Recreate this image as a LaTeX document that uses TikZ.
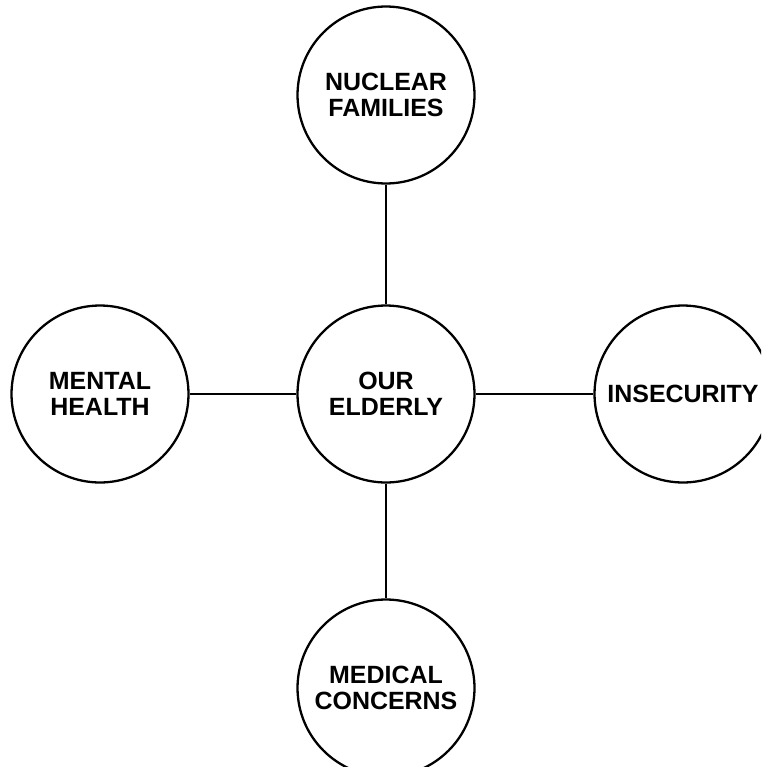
\documentclass[tikz,border=0pt]{standalone}
\usepackage{fontspec}
\setmainfont{Liberation Sans}
\usepackage{tikz}
\usetikzlibrary{positioning}
\tikzset{topic/.style={draw,circle,line width=1.3pt,minimum size=3.54cm,inner sep=0pt,align=center,text=black,font=\bfseries\fontsize{14.2}{14.6}\selectfont}}

\begin{document}
\begin{tikzpicture}[x=0.02cm,y=-0.02cm,link/.style={line width=1.3pt}]
			\useasboundingbox (0,0) rectangle (761,767);
			\clip (0,0) rectangle (761,767);
			\node[topic] (eld) at (386,394) {OUR\\ELDERLY};
			\node[topic] (nuc) at (386,95) {NUCLEAR\\FAMILIES};
			\node[topic] (men) at (100,394) {MENTAL\\HEALTH};
			\node[topic] (ins) at (683,394) {INSECURITY};
			\node[topic] (med) at (386,688) {MEDICAL\\CONCERNS};

			\draw[link] (eld) -- (nuc);
			\draw[link] (eld) -- (men);
			\draw[link] (eld) -- (ins);
			\draw[link] (eld) -- (med);
		\end{tikzpicture}
\end{document}
